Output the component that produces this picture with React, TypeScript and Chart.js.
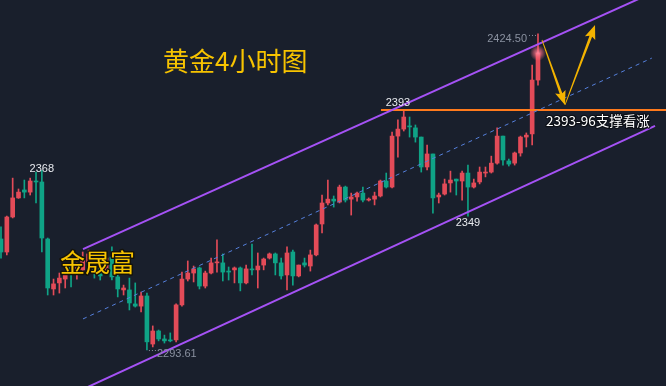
import React, { useEffect, useRef } from 'react';
import { Chart, registerables } from 'chart.js';

Chart.register(...registerables);

// ---- Candle data (gold, 4H) ----
const candleOpen = [
  2339.6, 2334.2, 2348.7, 2356.6, 2359.9, 2359.0, 2363.6, 2363.2, 2339.6, 2318.9,
  2321.4, 2323.0, 2328.4, 2325.1, 2326.8, 2330.1, 2333.0, 2327.6, 2326.8, 2332.1,
  2323.9, 2318.5, 2318.5, 2312.7, 2311.8, 2316.0, 2296.1, 2301.5, 2298.2, 2297.8,
  2297.8, 2312.3, 2323.0, 2325.5, 2327.6, 2320.1, 2325.5, 2329.7, 2329.7, 2326.3,
  2326.8, 2327.6, 2321.4, 2327.2, 2326.8, 2328.8, 2331.7, 2333.4, 2329.7, 2324.7,
  2334.2, 2324.3, 2329.7, 2328.4, 2333.0, 2345.8, 2354.5, 2356.1, 2354.9, 2361.1,
  2356.1, 2357.0, 2358.6, 2355.7, 2356.1, 2357.4, 2363.6, 2361.1, 2382.2, 2385.1,
  2386.4, 2385.6, 2381.8, 2369.4, 2374.8, 2357.0, 2358.2, 2362.8, 2364.4, 2363.6,
  2366.9, 2361.1, 2363.2, 2366.9, 2367.3, 2371.0, 2382.2, 2371.9, 2371.0, 2375.2,
  2381.8, 2383.1, 2405.4,
];
const candleHigh = [
  2344.6, 2349.1, 2364.8, 2360.3, 2364.0, 2364.8, 2367.3, 2368.0, 2340.0, 2323.0,
  2325.5, 2325.9, 2330.1, 2329.7, 2334.2, 2335.0, 2334.2, 2330.1, 2333.0, 2336.3,
  2328.8, 2320.5, 2323.4, 2321.4, 2317.6, 2317.2, 2303.6, 2301.9, 2299.8, 2300.7,
  2312.7, 2325.9, 2330.5, 2328.4, 2328.0, 2326.3, 2331.7, 2339.2, 2333.4, 2328.0,
  2328.0, 2328.0, 2328.8, 2337.5, 2333.8, 2331.7, 2333.8, 2333.8, 2331.7, 2336.3,
  2335.0, 2328.8, 2331.7, 2335.0, 2345.8, 2357.8, 2364.0, 2357.4, 2361.9, 2361.5,
  2358.6, 2359.0, 2361.1, 2356.6, 2359.0, 2364.0, 2366.9, 2383.9, 2388.9, 2393.0,
  2390.1, 2386.8, 2381.8, 2378.5, 2374.8, 2358.6, 2364.4, 2367.7, 2364.4, 2367.7,
  2370.2, 2364.4, 2369.4, 2369.4, 2373.9, 2385.6, 2382.2, 2372.7, 2375.6, 2382.2,
  2383.5, 2411.6, 2424.5,
];
const candleLow = [
  2331.7, 2333.0, 2348.3, 2356.4, 2356.6, 2357.8, 2354.5, 2334.2, 2316.4, 2316.4,
  2317.2, 2319.3, 2319.7, 2323.0, 2325.9, 2327.6, 2323.4, 2322.6, 2325.5, 2322.6,
  2315.6, 2316.4, 2310.2, 2311.4, 2309.4, 2293.61, 2294.9, 2297.4, 2296.5, 2297.0,
  2297.0, 2311.8, 2322.2, 2321.8, 2318.9, 2319.3, 2325.1, 2325.9, 2322.2, 2322.6,
  2321.4, 2318.1, 2321.0, 2324.7, 2319.3, 2326.8, 2331.3, 2324.7, 2323.0, 2318.5,
  2320.5, 2323.9, 2328.0, 2326.3, 2332.6, 2342.1, 2353.7, 2352.8, 2354.5, 2354.9,
  2349.5, 2355.3, 2354.9, 2355.3, 2353.7, 2357.0, 2360.7, 2360.7, 2373.5, 2384.3,
  2381.8, 2379.7, 2367.3, 2368.2, 2350.3, 2354.5, 2357.8, 2359.0, 2357.8, 2355.7,
  2349.0, 2360.7, 2362.4, 2365.3, 2366.9, 2370.6, 2370.2, 2369.8, 2370.2, 2373.9,
  2377.7, 2378.5, 2403.3,
];
const candleClose = [
  2334.2, 2348.7, 2356.6, 2359.0, 2359.0, 2363.6, 2363.2, 2340.0, 2319.3, 2321.0,
  2323.4, 2324.7, 2325.9, 2328.0, 2331.7, 2333.4, 2325.9, 2324.3, 2331.7, 2323.9,
  2318.9, 2319.3, 2313.1, 2311.8, 2316.0, 2297.0, 2301.5, 2298.2, 2297.4, 2297.4,
  2312.3, 2323.0, 2325.5, 2327.2, 2320.1, 2325.5, 2329.7, 2330.1, 2325.9, 2325.9,
  2327.6, 2321.4, 2327.2, 2326.8, 2328.4, 2331.3, 2333.4, 2329.7, 2324.3, 2333.8,
  2324.3, 2328.8, 2328.8, 2333.0, 2345.4, 2354.5, 2356.1, 2355.3, 2361.1, 2355.7,
  2357.0, 2358.6, 2355.7, 2356.1, 2357.4, 2363.6, 2361.1, 2382.2, 2385.1, 2390.1,
  2386.0, 2381.8, 2369.4, 2374.8, 2356.6, 2357.8, 2362.4, 2364.0, 2363.6, 2366.9,
  2361.1, 2362.8, 2367.3, 2367.3, 2371.0, 2382.2, 2372.3, 2370.6, 2375.2, 2381.8,
  2382.6, 2405.4, 2416.6,
];

// ---- Axis ranges (index / price) ----
const xRange = [-0.171, 113.93];
const yRange = [2278.72, 2438.55];

// ---- Drawn trend lines (index, price) ----
const upperChannel = [{ x: 14.05, y: 2335.4 }, { x: 110, y: 2439.8 }];
const lowerChannel = [{ x: 14.5, y: 2277.9 }, { x: 112.05, y: 2386.4 }];
const midChannel = [{ x: 14.05, y: 2306.5 }, { x: 111.5, y: 2414.5 }];
const supportLine = [{ x: 65.1, y: 2393 }, { x: 114, y: 2393 }];
const arrowPath = [{ x: 92.68, y: 2422.0 }, { x: 96.63, y: 2395.1 }, { x: 101.77, y: 2428.2 }];

// ---- Price labels ----
const labelIndex = [68, 7, 80, 25, 92];
const labelPrice = [2393, 2368, 2349, 2293.61, 2424.5];
const labelText = ['2393', '2368', '2349', '2293.61', '2424.50'];

const titleText = '黄金4小时图';
const brandText = '金晟富';
const noteText = '2393-96支撑看涨';

const UP = '#e34b58';
const DOWN = '#0fa386';
const BG = '#191f2c';

const candleColors = candleOpen.map((o, i) => (candleClose[i] >= o ? UP : DOWN));

function drawArrow(ctx: CanvasRenderingContext2D, x1: number, y1: number, x2: number, y2: number) {
  const ang = Math.atan2(y2 - y1, x2 - x1);
  const len = Math.hypot(x2 - x1, y2 - y1);
  const headLen = 14;
  const headW = 5.5;
  ctx.save();
  ctx.translate(x1, y1);
  ctx.rotate(ang);
  ctx.beginPath();
  ctx.moveTo(0, -0.4);
  ctx.lineTo(len - headLen + 2, -1.4);
  ctx.lineTo(len - headLen, -headW);
  ctx.lineTo(len, 0);
  ctx.lineTo(len - headLen, headW);
  ctx.lineTo(len - headLen + 2, 1.4);
  ctx.lineTo(0, 0.4);
  ctx.closePath();
  ctx.fillStyle = '#f3b300';
  ctx.fill();
  ctx.restore();
}

const bgPlugin = {
  id: 'bgFill',
  beforeDraw(chart: any) {
    const { ctx, width, height } = chart;
    ctx.save();
    ctx.fillStyle = BG;
    ctx.fillRect(0, 0, width, height);
    ctx.restore();
  },
};

const overlayPlugin = {
  id: 'overlay',
  afterDraw(chart: any) {
    const { ctx } = chart;
    const xs = chart.scales.x;
    const ys = chart.scales.y;
    ctx.save();

    // glow on last candle
    const li = candleClose.length - 1;
    const gx = xs.getPixelForValue(li);
    const gy = ys.getPixelForValue(candleClose[li]);
    const grad = ctx.createRadialGradient(gx, gy, 0, gx, gy, 8);
    grad.addColorStop(0, 'rgba(255,140,160,0.95)');
    grad.addColorStop(0.5, 'rgba(255,110,130,0.55)');
    grad.addColorStop(1, 'rgba(255,110,130,0)');
    ctx.fillStyle = grad;
    ctx.beginPath();
    ctx.arc(gx, gy, 8, 0, Math.PI * 2);
    ctx.fill();

    // arrows
    for (let k = 0; k < arrowPath.length - 1; k++) {
      const a = arrowPath[k];
      const b = arrowPath[k + 1];
      drawArrow(ctx, xs.getPixelForValue(a.x), ys.getPixelForValue(a.y), xs.getPixelForValue(b.x), ys.getPixelForValue(b.y));
    }

    // price labels
    ctx.textBaseline = 'alphabetic';
    labelText.forEach((t, k) => {
      const px = xs.getPixelForValue(labelIndex[k]);
      const py = ys.getPixelForValue(labelPrice[k]);
      ctx.font = '11px "Liberation Sans", Arial, sans-serif';
      if (k === 0) {
        ctx.fillStyle = '#e8eaef';
        ctx.textAlign = 'center';
        ctx.fillText(t, px, py - 4);
      } else if (k === 1) {
        ctx.fillStyle = '#e8eaef';
        ctx.textAlign = 'center';
        ctx.fillText(t, px, py + 2);
      } else if (k === 2) {
        ctx.fillStyle = '#e8eaef';
        ctx.textAlign = 'center';
        ctx.fillText(t, px, py + 10);
      } else if (k === 3) {
        ctx.fillStyle = '#8a91a0';
        ctx.textAlign = 'left';
        ctx.fillText(t, px + 10, py + 7);
        ctx.strokeStyle = '#8a91a0';
        ctx.lineWidth = 1;
        ctx.setLineDash([1, 2]);
        ctx.beginPath();
        ctx.moveTo(px + 2, py + 0.5);
        ctx.lineTo(px + 9, py + 0.5);
        ctx.stroke();
        ctx.setLineDash([]);
      } else {
        ctx.fillStyle = '#8a91a0';
        ctx.textAlign = 'right';
        ctx.fillText(t, px - 11, py + 8);
        ctx.strokeStyle = '#8a91a0';
        ctx.lineWidth = 1;
        ctx.setLineDash([1, 2]);
        ctx.beginPath();
        ctx.moveTo(px - 9, py + 1.5);
        ctx.lineTo(px - 1, py + 1.5);
        ctx.stroke();
        ctx.setLineDash([]);
      }
    });

    // title
    ctx.textAlign = 'left';
    ctx.font = '26px "Noto Sans CJK SC", sans-serif';
    ctx.fillStyle = '#f7c300';
    ctx.fillText(titleText, 163, 71);

    // brand
    ctx.font = '25px "Noto Sans CJK SC", sans-serif';
    ctx.lineJoin = 'round';
    ctx.lineWidth = 3;
    ctx.strokeStyle = '#15130a';
    ctx.strokeText(brandText, 60, 272);
    ctx.fillStyle = '#f7c300';
    ctx.fillText(brandText, 60, 272);

    // note
    ctx.font = '13.5px "Noto Sans CJK SC", sans-serif';
    ctx.lineWidth = 2.5;
    ctx.strokeStyle = 'rgba(10,12,18,0.8)';
    ctx.strokeText(noteText, 546, 126);
    ctx.fillStyle = '#ffffff';
    ctx.fillText(noteText, 546, 126);

    ctx.restore();
  },
};

export default function App() {
  const canvasRef = useRef<HTMLCanvasElement | null>(null);

  useEffect(() => {
    const canvas = canvasRef.current;
    if (!canvas) return;
    const idx = candleOpen.map((_, i) => i);
    const chart = new Chart(canvas, {
      type: 'bar',
      data: {
        datasets: [
          {
            type: 'line',
            data: upperChannel,
            borderColor: '#a552f5',
            borderWidth: 2,
            pointRadius: 0,
            order: 0,
          } as any,
          {
            type: 'line',
            data: lowerChannel,
            borderColor: '#a552f5',
            borderWidth: 2,
            pointRadius: 0,
            order: 0,
          } as any,
          {
            type: 'line',
            data: midChannel,
            borderColor: '#5580dc',
            borderWidth: 1,
            borderDash: [4, 4],
            pointRadius: 0,
            order: 0,
          } as any,
          {
            type: 'line',
            data: supportLine,
            borderColor: '#ff7a1c',
            borderWidth: 1.8,
            pointRadius: 0,
            order: 0,
          } as any,
          {
            type: 'bar',
            data: idx.map((i) => ({ x: i, y: [candleOpen[i], candleClose[i]] })),
            backgroundColor: candleColors,
            barThickness: 4,
            minBarLength: 1,
            grouped: false,
            order: 1,
          } as any,
          {
            type: 'bar',
            data: idx.map((i) => ({ x: i, y: [candleLow[i], candleHigh[i]] })),
            backgroundColor: candleColors,
            barThickness: 1,
            minBarLength: 1,
            grouped: false,
            order: 2,
          } as any,
        ],
      },
      options: {
        animation: false,
        responsive: false,
        devicePixelRatio: 1,
        layout: { padding: 0 },
        plugins: {
          legend: { display: false },
          tooltip: { enabled: false },
        },
        scales: {
          x: { type: 'linear', min: xRange[0], max: xRange[1], display: false, offset: false },
          y: { type: 'linear', min: yRange[0], max: yRange[1], display: false },
        },
      } as any,
      plugins: [bgPlugin, overlayPlugin],
    });
    return () => chart.destroy();
  }, []);

  return (
    <div style={{ position: 'fixed', left: 0, top: 0, width: 666, height: 386, background: BG }}>
      <canvas ref={canvasRef} width={666} height={386} style={{ display: 'block' }} />
    </div>
  );
}
